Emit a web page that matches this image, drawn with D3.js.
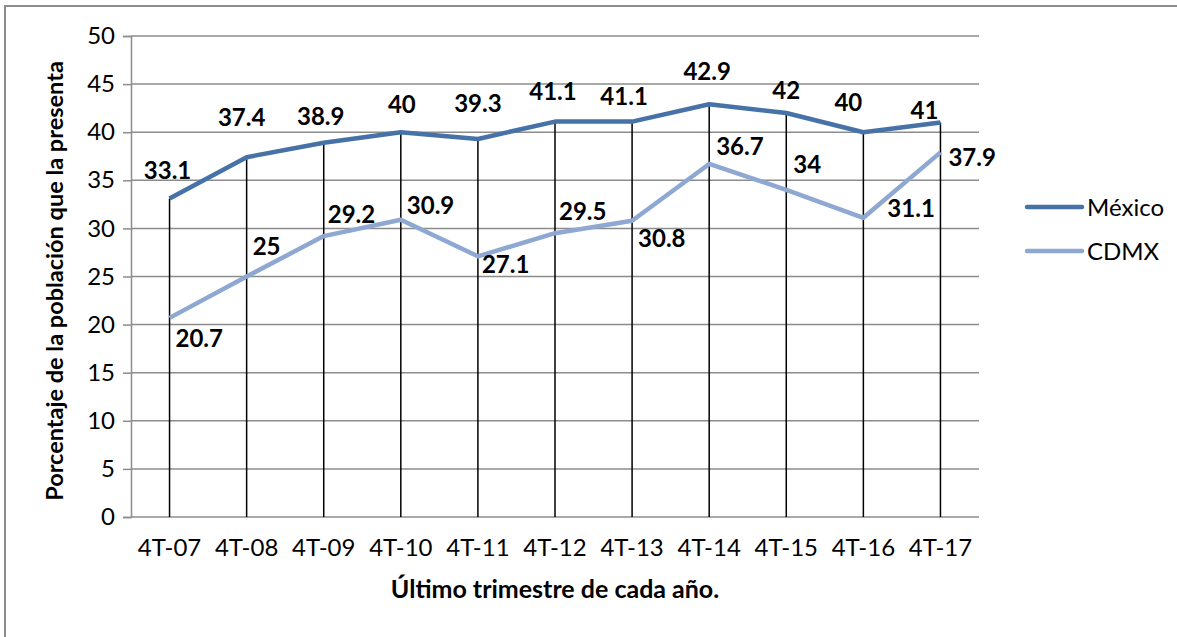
<!DOCTYPE html>
<html>
<head>
<meta charset="utf-8">
<script src="https://cdn.jsdelivr.net/npm/d3@7"></script>
<style>
  body { margin: 0; background: #fff; }
  svg text { font-family: Lato, "Open Sans", sans-serif; fill: #000; }
</style>
</head>
<body>
<div id="chart"></div>
<script>
// chart values
const categories = ["4T-07", "4T-08", "4T-09", "4T-10", "4T-11", "4T-12", "4T-13", "4T-14", "4T-15", "4T-16", "4T-17"];
const mexico = [33.1, 37.4, 38.9, 40, 39.3, 41.1, 41.1, 42.9, 42, 40, 41];
const cdmx = [20.7, 25, 29.2, 30.9, 27.1, 29.5, 30.8, 36.7, 34, 31.1, 37.9];
const yTicks = [0, 5, 10, 15, 20, 25, 30, 35, 40, 45, 50];
const seriesNames = ["México", "CDMX"];

// size and margins
const width = 1177;
const height = 637;
const margin = {left: 131, right: 198, top: 36, bottom: 120};

const colors = ["#4672a8", "#8ea8d2"];

const svg = d3.select("#chart")
  .append("svg")
  .attr("width", width)
  .attr("height", height);

// outer frame (runs off the right and bottom of the picture)
svg.append("rect")
  .attr("x", 5).attr("y", 6)
  .attr("width", width + 20).attr("height", height + 20)
  .attr("fill", "none")
  .attr("stroke", "#8c8c8c")
  .attr("stroke-width", 2);

const xScale = d3.scaleBand()
  .domain(categories)
  .range([margin.left, width - margin.right]);

const yScale = d3.scaleLinear()
  .domain([0, 50])
  .range([height - margin.bottom, margin.top]);

const xPos = d => xScale(d) + xScale.bandwidth() / 2;

// horizontal grid
svg.append("g")
  .selectAll("line")
  .data(yTicks)
  .enter()
  .append("line")
    .attr("x1", margin.left)
    .attr("x2", width - margin.right)
    .attr("y1", d => yScale(d))
    .attr("y2", d => yScale(d))
    .attr("stroke", "#8c8c8c")
    .attr("stroke-width", 1.5);

// y axis
const yAxis = svg.append("g")
  .attr("transform", `translate(${margin.left},0)`)
  .call(d3.axisLeft(yScale).tickValues(yTicks).tickSize(8).tickPadding(8));
yAxis.select(".domain").attr("stroke", "#8c8c8c").attr("stroke-width", 1.5);
yAxis.selectAll(".tick line").attr("stroke", "#8c8c8c").attr("stroke-width", 1.5);
yAxis.selectAll(".tick text").attr("font-size", "24px").attr("font-family", "Lato");

// x axis labels (no tick marks)
const xAxis = svg.append("g")
  .attr("transform", `translate(0,${height - margin.bottom})`)
  .call(d3.axisBottom(xScale).tickSize(0).tickPadding(22));
xAxis.select(".domain").remove();
xAxis.selectAll(".tick text").attr("font-size", "24px").attr("font-family", "Lato");

// drop lines from the highest point down to the base
svg.append("g")
  .selectAll("line")
  .data(categories)
  .enter()
  .append("line")
    .attr("x1", d => xPos(d))
    .attr("x2", d => xPos(d))
    .attr("y1", (d, i) => yScale(Math.max(mexico[i], cdmx[i])))
    .attr("y2", yScale(0))
    .attr("stroke", "#000")
    .attr("stroke-width", 1.5);

// series lines
const line = d3.line()
  .x((d, i) => xPos(categories[i]))
  .y(d => yScale(d));

[mexico, cdmx].forEach((vals, s) => {
  svg.append("path")
    .datum(vals)
    .attr("d", line)
    .attr("fill", "none")
    .attr("stroke", colors[s])
    .attr("stroke-width", 4.5)
    .attr("stroke-linejoin", "round");
});

// data label nudges (as placed in the original chart)
const mxShift = [[-2, -20], [-5, -31], [-3, -18], [1, -19], [0, -27], [-2, -22], [-8, -17], [-2, -24], [0, -14], [-15, -21], [-16, -4]];
const cdShift = [[6, 29], [6, -22], [4, -13], [6, -6], [4, 17], [4, -13], [6, 26], [7, -9], [7, -17], [24, -1], [8, 14]];

svg.append("g")
  .selectAll("text")
  .data(mexico)
  .enter()
  .append("text")
    .attr("x", (d, i) => xPos(categories[i]) + mxShift[i][0])
    .attr("y", (d, i) => yScale(d) + mxShift[i][1])
    .attr("text-anchor", "middle")
    .attr("font-size", "24px")
    .attr("font-weight", "bold")
    .text(d => d);

svg.append("g")
  .selectAll("text")
  .data(cdmx)
  .enter()
  .append("text")
    .attr("x", (d, i) => xPos(categories[i]) + cdShift[i][0])
    .attr("y", (d, i) => yScale(d) + cdShift[i][1])
    .attr("text-anchor", "start")
    .attr("font-size", "24px")
    .attr("font-weight", "bold")
    .text(d => d);

// axis titles
svg.append("text")
  .attr("x", (margin.left + width - margin.right) / 2)
  .attr("y", 598)
  .attr("text-anchor", "middle")
  .attr("font-size", "25px")
  .attr("font-weight", "bold")
  .text("Último trimestre de cada año.");

svg.append("text")
  .attr("transform", `translate(63,281) rotate(-90)`)
  .attr("text-anchor", "middle")
  .attr("font-size", "23.5px")
  .attr("font-weight", "bold")
  .text("Porcentaje de la población que la presenta");

// legend
const legend = svg.append("g")
  .selectAll("g")
  .data(seriesNames)
  .enter()
  .append("g")
    .attr("transform", (d, i) => `translate(1027,${207 + i * 44})`);

legend.append("line")
  .attr("x1", 0).attr("x2", 55)
  .attr("stroke", (d, i) => colors[i])
  .attr("stroke-width", 4.5)
  .attr("stroke-linecap", "round");

legend.append("text")
  .attr("x", 60)
  .attr("y", 9)
  .attr("font-size", "24px")
  .text(d => d);
</script>
</body>
</html>
